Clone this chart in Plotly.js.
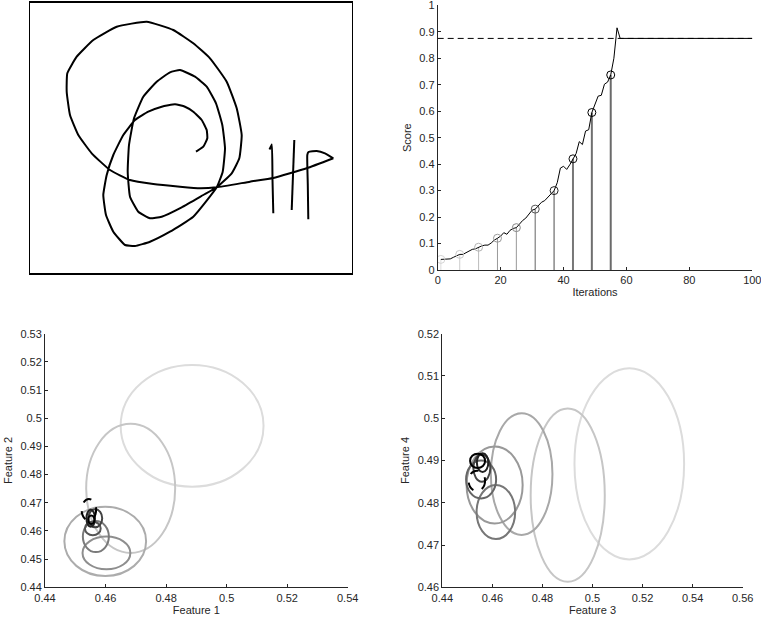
<!DOCTYPE html>
<html>
<head>
<meta charset="utf-8">
<script src="https://cdn.plot.ly/plotly-3.0.1.min.js"></script>
<style>html,body{margin:0;padding:0;background:#fff}#chart{width:761px;height:619px}</style>
</head>
<body>
<div id="chart"></div>
<script>
// ---------- Sketch (top-left), canvas coordinates ----------
const sketchMainX = [196.0,203.3,207.3,206.7,201.7,193.3,185,175,161.7,148.3,135,123.3,113.3,106.7,103.3,106,113.3,125,135,150,170,193.3,216.7,222.7,225,222.3,216,206.7,195,180,170,156.7,143.3,134,129,127.7,130,138.3,150,161.7,181.7,203.3,216.7,231.7,239.3,241.7,236.7,226.7,210,193.3,173.3,146.7,116.7,93.3,76.7,67.3,66.7,70,78.3,91.7,110,130,153.3,180,200,216.7,250,273.3,306.7,333.3];
const sketchMainY = [151.7,146.7,138.3,130,120,111.7,106.7,104.3,106.7,111.7,120,135,155,175,195,215,231.7,245,246,241.7,231.7,216.7,187.3,171.7,148.3,125,103.3,86.7,76.7,70,72.3,81.7,96.7,118.3,145,171.7,196.7,211.7,218.3,216.7,207.3,195,187.3,173.3,158.3,135,108.3,81.7,58.3,43.3,30,21.7,26.7,40,56.7,73.3,91.7,115,135,153.3,170,180,184,186.7,188.3,187.3,181.7,178,168.3,158.3];
const strokeAX = [273.3,272.5,271.8,269.5];
const strokeAY = [213.3,180,144.5,149.5];
const strokeBX = [291.7,293,294.3];
const strokeBY = [210,175,140];
const strokeCX = [308.3,307.8,307.3,308.5,316.7,325,333.3];
const strokeCY = [219.3,185,155,152,151,153.3,158.3];

// ---------- Score vs iterations (top-right) ----------
const iterations = [1,2,3,4,5,6,7,8,9,10,11,12,13,14,15,16,17,18,19,20,21,22,23,24,25,26,27,28,29,30,31,32,33,34,35,36,37,38,39,40,41,42,43,44,45,46,47,48,49,50,51,52,53,54,55,56,57,58,100];
const score = [0.040,0.040,0.040,0.042,0.048,0.055,0.059,0.059,0.065,0.072,0.078,0.080,0.086,0.091,0.094,0.094,0.102,0.113,0.120,0.128,0.141,0.135,0.150,0.157,0.160,0.175,0.187,0.196,0.213,0.226,0.230,0.245,0.256,0.262,0.276,0.287,0.300,0.330,0.385,0.392,0.380,0.398,0.420,0.440,0.485,0.474,0.525,0.530,0.595,0.630,0.657,0.660,0.702,0.710,0.737,0.800,0.915,0.875,0.875];
const sampleIter = [1,7,13,19,25,31,37,43,49,55];
const sampleScore = [0.040,0.059,0.086,0.120,0.160,0.230,0.300,0.420,0.595,0.737];
const threshold = 0.875;
const thresholdSpan = [0,100];

// ---------- Ellipses: Feature 1 vs Feature 2 ----------
const f12CenterX = [0.4886,0.4683,0.4599,0.4603,0.4568,0.4558,0.4566,0.4551,0.4553,0.4545];
const f12CenterY = [0.4973,0.4751,0.4563,0.4522,0.4580,0.4609,0.4645,0.4645,0.4640,0.4675];
const f12RadX    = [0.0236,0.0147,0.0135,0.0079,0.0043,0.0026,0.0023,0.0014,0.0010,0.0024];
const f12RadY    = [0.0216,0.0229,0.0123,0.0058,0.0055,0.0024,0.0032,0.0030,0.0015,0.0038];

// ---------- Ellipses: Feature 3 vs Feature 4 ----------
const f34CenterX = [0.5147,0.4901,0.4717,0.4609,0.4614,0.4555,0.4558,0.4561,0.4541,0.4538];
const f34CenterY = [0.4892,0.4818,0.4868,0.4842,0.4778,0.4855,0.4882,0.4895,0.4899,0.4852];
const f34RadX    = [0.0219,0.0148,0.0123,0.0112,0.0077,0.0060,0.0034,0.0023,0.0030,0.0033];
const f34RadY    = [0.0226,0.0205,0.0144,0.0091,0.0064,0.0045,0.0032,0.0022,0.0017,0.0024];

// ---------- Styles ----------
const f12Colors = ['#dcdcdc','#c6c6c6','#acacac','#8e8e8e','#7a7a7a','#555555','#444444','#222222','#000000','#000000'];
const f34Colors = ['#dcdcdc','#c6c6c6','#a8a8a8','#999999','#777777','#666666','#444444','#222222','#000000','#000000'];
const ellDash   = ['solid','solid','solid','solid','solid','solid','solid','solid','solid','dash'];
const stemColors = ['#dddddd','#cccccc','#bbbbbb','#9a9a9a','#999999','#888888','#888888','#777777','#6f6f6f','#6a6a6a'];
const stemWidths = [1,1,1,1,1,1.3,1.5,2,2,2];
const markerColors = ['#d4d4d4','#c8c8c8','#b4b4b4','#9a9a9a','#888888','#555555','#222222','#111111','#000000','#000000'];

const ink = '#262626';
const font = {family:'Liberation Sans, Arial, sans-serif', size:11, color:ink};

const traces = [];
// sketch strokes
[[sketchMainX,sketchMainY],[strokeAX,strokeAY],[strokeBX,strokeBY],[strokeCX,strokeCY]].forEach(s=>{
  traces.push({x:s[0], y:s[1], xaxis:'x', yaxis:'y', mode:'lines', type:'scatter',
    line:{color:'#000', width:2, shape:'spline', smoothing:0.4}, hoverinfo:'skip', showlegend:false});
});
// threshold dashed line
traces.push({x:thresholdSpan, y:[threshold,threshold], xaxis:'x2', yaxis:'y2', mode:'lines', type:'scatter',
  line:{color:'#000', width:1, dash:'6px,4px'}, showlegend:false});
// stems
sampleIter.forEach((it,i)=>{
  traces.push({x:[it,it], y:[0,sampleScore[i]], xaxis:'x2', yaxis:'y2', mode:'lines', type:'scatter',
    line:{color:stemColors[i], width:stemWidths[i]}, showlegend:false});
});
// score line
traces.push({x:iterations, y:score, xaxis:'x2', yaxis:'y2', mode:'lines', type:'scatter',
  line:{color:'#000', width:1}, showlegend:false});
// circles
traces.push({x:sampleIter, y:sampleScore, xaxis:'x2', yaxis:'y2', mode:'markers', type:'scatter',
  marker:{symbol:'circle-open', size:8, color:markerColors, line:{width:1, color:markerColors}}, showlegend:false});
// empty anchors for ellipse panels
traces.push({x:[null], y:[null], xaxis:'x3', yaxis:'y3', type:'scatter', mode:'markers', showlegend:false});
traces.push({x:[null], y:[null], xaxis:'x4', yaxis:'y4', type:'scatter', mode:'markers', showlegend:false});

const shapes = [];
f12CenterX.forEach((cx,i)=>{
  shapes.push({type:'circle', xref:'x3', yref:'y3', x0:cx-f12RadX[i], x1:cx+f12RadX[i], y0:f12CenterY[i]-f12RadY[i], y1:f12CenterY[i]+f12RadY[i],
    line:{color:f12Colors[i], width:2, dash:ellDash[i]}});
});
f34CenterX.forEach((cx,i)=>{
  shapes.push({type:'circle', xref:'x4', yref:'y4', x0:cx-f34RadX[i], x1:cx+f34RadX[i], y0:f34CenterY[i]-f34RadY[i], y1:f34CenterY[i]+f34RadY[i],
    line:{color:f34Colors[i], width:2, dash:ellDash[i]}});
});

const W = 761, H = 619;
function dx(a,b){return [a/W, b/W];}
function dy(top,bottom){return [(H-bottom)/H, (H-top)/H];}

const axBase = {showgrid:false, zeroline:false, showline:true, linecolor:ink, linewidth:1,
  ticks:'inside', ticklen:3, tickcolor:ink, tickfont:font, fixedrange:true, ticklabeloverflow:'allow'};

const layout = {
  width:W, height:H, margin:{l:0,r:0,t:0,b:0}, paper_bgcolor:'#fff', plot_bgcolor:'#fff',
  font:font, showlegend:false,
  xaxis:{domain:dx(30,351.7), range:[30,351.7], anchor:'y', showgrid:false, zeroline:false, showline:true, mirror:true,
    linecolor:'#000', linewidth:1.5, showticklabels:false, ticks:'', fixedrange:true},
  yaxis:{domain:dy(2.7,273.3), range:[273.3,2.7], anchor:'x', showgrid:false, zeroline:false, showline:true, mirror:true,
    linecolor:'#000', linewidth:1.5, showticklabels:false, ticks:'', fixedrange:true},
  xaxis2:Object.assign({}, axBase, {domain:dx(437.7,752.3), range:[0,100], anchor:'y2', tickmode:'linear', tick0:0, dtick:20,
    title:{text:'Iterations', font:font, standoff:3}}),
  yaxis2:Object.assign({}, axBase, {domain:dy(5.3,270), range:[0,1.0001], anchor:'x2', tickmode:'linear', tick0:0, dtick:0.1,
    title:{text:'Score', font:font, standoff:5}}),
  xaxis3:Object.assign({}, axBase, {domain:dx(45,347.7), range:[0.44,0.54], anchor:'y3', tickmode:'linear', tick0:0.44, dtick:0.02,
    title:{text:'Feature 1', font:font, standoff:3}}),
  yaxis3:Object.assign({}, axBase, {domain:dy(333.7,587.3), range:[0.44,0.53], anchor:'x3', tickmode:'linear', tick0:0.44, dtick:0.01,
    title:{text:'Feature 2', font:font, standoff:5}}),
  xaxis4:Object.assign({}, axBase, {domain:dx(442.3,742.7), range:[0.44,0.56], anchor:'y4', tickmode:'linear', tick0:0.44, dtick:0.02,
    title:{text:'Feature 3', font:font, standoff:3}}),
  yaxis4:Object.assign({}, axBase, {domain:dy(333.7,587.3), range:[0.46,0.52], anchor:'x4', tickmode:'linear', tick0:0.46, dtick:0.01,
    title:{text:'Feature 4', font:font, standoff:5}}),
  shapes:shapes
};

Plotly.newPlot('chart', traces, layout, {staticPlot:true, displayModeBar:false});
</script>
</body>
</html>
